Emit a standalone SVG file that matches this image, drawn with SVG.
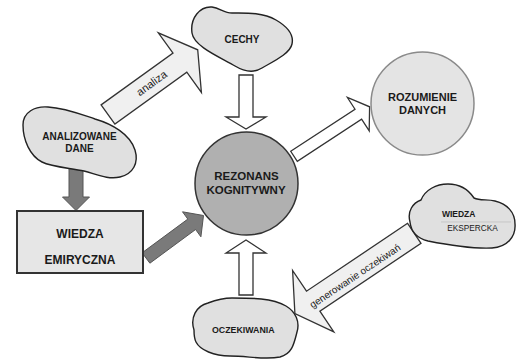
<svg xmlns="http://www.w3.org/2000/svg" width="516" height="359" viewBox="0 0 516 359">
<style>
.blob{fill:#e0e0e0;stroke:#222;stroke-width:1.4}
.wa{fill:#ffffff;stroke:#333;stroke-width:1.3;stroke-linejoin:miter}
.la{fill:#f0f0f0;stroke:#333;stroke-width:1.3}
.da{fill:#7a7a7a;stroke:#555;stroke-width:1}
.t{font-family:"Liberation Sans",Arial,sans-serif;font-weight:bold;fill:#1a1a1a;text-anchor:middle}
.l{font-family:"Liberation Sans",Arial,sans-serif;fill:#1a1a1a;text-anchor:middle}
</style>
<rect width="516" height="359" fill="#ffffff"/>
<g id="connectors">
<polygon class="wa" points="239,75 239,117 226,117 246,129 266,117 253,117 253,75"/>
<polygon class="wa" points="239,295 239,253 226,253 246,240 266,253 253,253 253,295"/>
<polygon class="wa" points="290.7,151.3 355.0,109.2 347.4,97.5 369.6,106.8 369.2,130.9 361.6,119.2 297.3,161.3"/>
<polygon class="la" points="101.1,104.9 173.0,53.1 158.3,32.8 197.7,49.8 201.4,92.5 186.8,72.2 114.9,124.1"/>
<text class="l" font-size="11" transform="translate(151.5,83) rotate(-35.8)" y="4">analiza</text>
<polygon class="la" points="407.6,223.3 306.5,291.2 292.6,270.5 294.9,313.5 333.8,331.9 319.9,311.2 421.0,243.3"/>
<text class="l" font-size="10" transform="translate(355,276) rotate(-33.8)" y="3.5">generowanie oczekiwań</text>
<polygon class="da" points="69,168 69,197 62.5,197 76,210.5 89.5,197 83,197 83,168"/>
<polygon class="da" points="142.1,252.8 187.8,219.1 182.5,211.8 203.5,215.5 200.9,236.8 195.6,229.5 149.9,263.2"/>
</g>
<g id="cechy">
<path class="blob" d="M192,33 C190,18 200,6 212,7 C220,8 224,13 232,13 C245,13 262,12 276,20 C288,27 294,35 292,44 C290,54 272,62 262,68 C254,73 245,72 235,66 C222,58 194,47 192,33 Z"/>
<text class="t" font-size="10" x="242" y="43">CECHY</text>
</g>
<g id="analizowane-dane">
<path class="blob" d="M23,125 C23,112 35,106 48,107 C65,108 80,114 95,119 C112,124 130,134 135,150 C139,163 133,174 120,177 C108,180 96,174 84,171 C70,168 52,167 42,162 C30,156 23,140 23,125 Z"/>
<text class="t" font-size="10" x="79.5" y="140.3">ANALIZOWANE</text>
<text class="t" font-size="10" x="79.5" y="151.8">DANE</text>
</g>
<g id="wiedza-empiryczna">
<rect x="17" y="211" width="126" height="62" fill="#e6e6e6" stroke="#333" stroke-width="2"/>
<text class="t" font-size="12" x="80" y="237.7">WIEDZA</text>
<text class="t" font-size="12" x="80" y="264.3">EMIRYCZNA</text>
</g>
<g id="rezonans">
<circle cx="246.5" cy="183.5" r="51.5" fill="#b0b0b0" stroke="#333" stroke-width="1.5"/>
<text class="t" font-size="11.5" x="246.5" y="180">REZONANS</text>
<text class="t" font-size="11.5" x="246" y="194">KOGNITYWNY</text>
</g>
<g id="rozumienie">
<circle cx="422.5" cy="103.5" r="51.5" fill="#e4e4e4" stroke="#8a8a8a" stroke-width="1.5"/>
<text class="t" font-size="11" x="422.5" y="100.7">ROZUMIENIE</text>
<text class="t" font-size="11" x="422.5" y="114">DANYCH</text>
</g>
<g id="wiedza-ekspercka">
<path class="blob" d="M410,222 C407,211 413,203 421,200 C425,190 436,184 448,184 C460,184 468,189 474,198 C480,201 487,199 495,201 C507,204 515,212 515,224 C516,237 507,247 492,248 C470,249 448,245 428,241 C416,238 411,231 410,222 Z"/>
<rect x="441" y="221" width="70" height="1.8" fill="#d2d2d2"/>
<text class="t" font-size="8.5" x="458.7" y="217.3">WIEDZA</text>
<text class="l" font-size="8.3" x="472.5" y="230.7">EKSPERCKA</text>
</g>
<g id="oczekiwania">
<path class="blob" d="M194,330 C190,318 196,306 208,303 C216,300 222,298 232,298 C252,298 272,298 286,306 C296,312 300,322 297,332 C294,344 292,354 280,357 C264,360 248,356 230,356 C214,356 200,350 196,342 C194,338 194,334 194,330 Z"/>
<text class="t" font-size="8.8" x="243.3" y="333">OCZEKIWANIA</text>
</g>
</svg>
